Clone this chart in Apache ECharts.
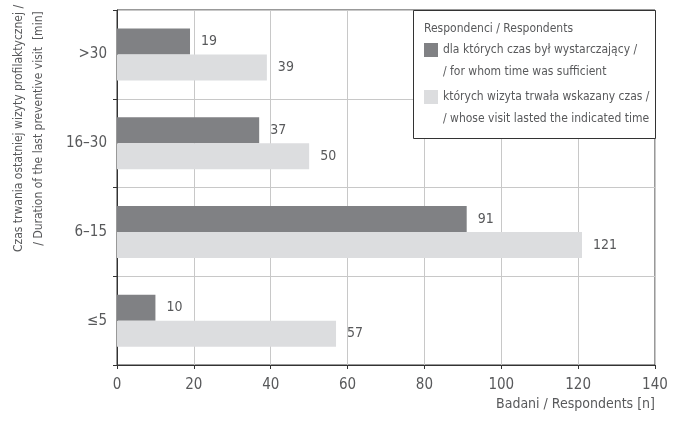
<!DOCTYPE html>
<html>
<head>
<meta charset="utf-8">
<script src="https://cdn.jsdelivr.net/npm/echarts@6/dist/echarts.min.js"></script>
<style>
  body { margin: 0; background: #fff; }
  #chart { width: 679px; height: 428px; }
</style>
</head>
<body>
<div id="chart"></div>
<script>
// dane z wykresu (od dołu do góry)
var categories = ['≤5', '6–15', '16–30', '>30'];
var sufficient = [10, 91, 37, 19];
var indicated = [57, 121, 50, 39];
var xTicks = [0, 20, 40, 60, 80, 100, 120, 140];
var seriesNames = [
  'dla których czas był wystarczający /\n/ for whom time was sufficient',
  'których wizyta trwała wskazany czas /\n/ whose visit lasted the indicated time'
];

var font = "'Liberation Sans Narrow', 'DejaVu Sans Condensed', sans-serif";
var textColor = '#58595b';

var chart = echarts.init(document.getElementById('chart'));
var option = {
  animation: false,
  textStyle: { fontFamily: font },
  title: {
    text: 'Respondenci / Respondents',
    left: 424,
    top: 23,
    padding: 0,
    z: 10,
    textStyle: { fontFamily: font, fontSize: 12, fontWeight: 'normal', color: textColor }
  },
  graphic: [{
    type: 'rect',
    left: 413,
    top: 10,
    z: 5,
    shape: { width: 242, height: 128 },
    style: { fill: '#fff', stroke: '#333', lineWidth: 1 }
  }],
  legend: {
    data: seriesNames,
    orient: 'vertical',
    left: 424,
    top: 39,
    padding: 0,
    itemGap: 3,
    itemWidth: 14,
    itemHeight: 36,
    // kwadrat u góry, żeby ikona stała przy pierwszej linii
    icon: 'path://M0,0H14V14H0Z M0,36L14,36',
    itemStyle: { borderWidth: 0 },
    z: 10,
    textStyle: { fontFamily: font, fontSize: 12, lineHeight: 22, color: textColor }
  },
  grid: {
    left: 117,
    right: 24,
    top: 10,
    bottom: 63,
    outerBoundsMode: 'none',
    show: true,
    borderColor: '#333',
    borderWidth: 1
  },
  xAxis: {
    type: 'value',
    min: 0,
    max: 140,
    interval: 20,
    name: 'Badani / Respondents [n]',
    nameLocation: 'end',
    nameGap: 0,
    nameTextStyle: {
      fontFamily: font, fontSize: 14, color: textColor,
      align: 'right', verticalAlign: 'top', padding: [32, 0, 0, 0]
    },
    axisLine: { show: true, lineStyle: { color: '#333', width: 1 } },
    axisTick: { show: true, length: 4, lineStyle: { color: '#333' } },
    axisLabel: {
      fontFamily: font, fontSize: 15, color: textColor, margin: 13,
      formatter: function (v) { return xTicks.indexOf(v) > -1 ? String(v) : ''; }
    },
    splitLine: { lineStyle: { color: '#c8c8c8' } }
  },
  yAxis: {
    type: 'category',
    data: categories,
    name: 'Czas trwania ostatniej wizyty profilaktycznej /\n/ Duration of the last preventive visit  [min]',
    nameLocation: 'middle',
    nameRotate: 90,
    nameGap: 68,
    nameTextStyle: {
      fontFamily: font, fontSize: 12, color: textColor, lineHeight: 20,
      padding: [0, 0, 0, 118]
    },
    axisLine: { lineStyle: { color: '#333', width: 1 } },
    axisTick: { show: true, length: 4, lineStyle: { color: '#333' } },
    axisLabel: { fontFamily: font, fontSize: 15, color: textColor, margin: 10 },
    splitLine: { show: true, lineStyle: { color: '#c8c8c8' } }
  },
  series: [{
    name: seriesNames[0],
    type: 'bar',
    data: sufficient,
    barWidth: 26,
    barGap: '0%',
    itemStyle: { color: '#808184' },
    label: { show: true, position: 'right', distance: 11, fontFamily: font, fontSize: 14, color: textColor }
  }, {
    name: seriesNames[1],
    type: 'bar',
    data: indicated,
    barWidth: 26,
    barGap: '0%',
    itemStyle: { color: '#dcdddf' },
    label: { show: true, position: 'right', distance: 11, fontFamily: font, fontSize: 14, color: textColor }
  }]
};
chart.setOption(option);
</script>
</body>
</html>
